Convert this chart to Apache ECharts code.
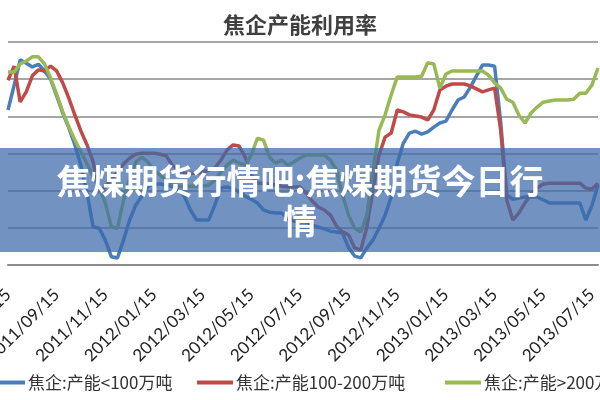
<!DOCTYPE html>
<html>
<head>
<meta charset="utf-8">
<script src="https://cdn.jsdelivr.net/npm/echarts@6/dist/echarts.min.js"></script>
<style>
  html, body { margin: 0; padding: 0; background: #fff; }
  #main { width: 600px; height: 400px; }
</style>
</head>
<body>
<div id="main"></div>
<script>
// series names
var names = ['焦企:产能<100万吨', '焦企:产能100-200万吨', '焦企:产能>200万吨'];

// labelled ticks on the date axis
var tickLabels = ['2011/07/15', '2011/09/15', '2011/11/15', '2012/01/15', '2012/03/15',
  '2012/05/15', '2012/07/15', '2012/09/15', '2012/11/15', '2013/01/15',
  '2013/03/15', '2013/05/15', '2013/07/15'];

// utilisation (%), one value per week
var small = [81.7, 88.3, 95.2, 94.3, 93.3, 94.0, 92.2, 90.0, 85.5, 80.9,
  76.9, 72.3, 66.7, 59.4, 50.2, 49.9, 46.7, 42.2, 41.9, 46.7,
  52.1, 56.1, 58.5, 61.2, 61.8, 61.8, 61.5, 61.2, 60.2, 58.5,
  54.8, 52.1, 52.1, 52.1, 56.1, 60.7, 61.0, 60.5, 59.7, 58.5,
  57.7, 56.7, 54.8, 54.2, 54.0, 54.0, 52.6, 51.8, 51.6, 51.6,
  50.8, 50.2, 49.7, 49.1, 48.9, 48.6, 44.6, 42.4, 41.9, 44.6,
  46.7, 49.9, 53.4, 58.3, 67.4, 72.8, 75.5, 76.0, 75.2, 75.8,
  77.1, 78.2, 78.7, 81.7, 84.4, 85.2, 87.8, 90.8, 93.8, 93.8,
  93.5, 78.5, 58.8, 57.7, 58.0, 58.3, 58.3, 58.3, 57.5, 56.7,
  56.7, 56.7, 56.7, 56.7, 56.7, 52.1, 56.0, 61.5];

var middle = [89.7, 93.5, 83.9, 86.6, 90.9, 92.5, 92.2, 93.5, 92.2, 89.0,
  84.9, 80.3, 76.0, 72.3, 67.7, 59.6, 61.0, 63.1, 65.0, 67.2,
  68.8, 69.8, 70.1, 70.1, 70.1, 69.8, 69.4, 66.9, 65.5, 64.7,
  64.7, 64.7, 65.0, 65.5, 66.1, 68.2, 70.9, 72.3, 72.0, 69.0,
  64.2, 62.0, 62.0, 61.8, 61.5, 61.2, 61.0, 61.0, 61.0, 59.4,
  57.2, 55.6, 54.8, 53.4, 50.5, 48.9, 48.1, 44.6, 44.0, 50.2,
  60.2, 69.6, 74.4, 75.5, 81.7, 81.2, 80.4, 80.1, 79.8, 79.0,
  81.7, 87.1, 88.1, 88.7, 88.7, 88.7, 88.2, 87.4, 86.6, 87.1,
  87.6, 76.3, 57.5, 52.1, 54.0, 56.7, 59.1, 60.7, 61.8, 62.0,
  62.0, 62.0, 62.0, 62.0, 62.0, 60.7, 60.4, 62.0];

var large = [91.9, 91.9, 94.1, 94.9, 96.0, 96.0, 94.1, 90.3, 86.0, 81.2,
  77.2, 73.6, 70.4, 67.2, 63.9, 60.7, 56.7, 50.2, 49.9, 57.5,
  63.4, 67.7, 69.0, 67.7, 65.5, 64.2, 62.8, 61.5, 61.2, 61.2,
  61.2, 61.2, 61.2, 61.5, 62.8, 65.0, 66.9, 68.2, 67.4, 66.9,
  69.6, 74.1, 73.6, 69.0, 67.4, 68.2, 66.9, 67.7, 68.8, 69.6,
  69.6, 69.6, 69.6, 68.2, 65.5, 58.8, 53.4, 49.9, 48.9, 53.4,
  65.5, 76.3, 80.4, 85.8, 90.6, 90.6, 90.6, 90.6, 90.8, 94.4,
  94.1, 87.6, 91.4, 92.2, 92.2, 92.2, 92.2, 92.2, 92.2, 91.1,
  89.0, 87.6, 84.6, 83.8, 80.3, 78.2, 80.9, 82.5, 83.8, 84.1,
  84.4, 84.4, 84.4, 84.6, 86.2, 86.2, 88.4, 93.0];

// weekly dates, 2011/07/15 .. 2013/07/22
var dates = [];
var days = ['01', '08', '15', '22'];
for (var y = 2011; y <= 2013; y++) {
  for (var m = 1; m <= 12; m++) {
    var mm = (m < 10 ? '0' : '') + m;
    days.forEach(function (d) {
      var s = y + '/' + mm + '/' + d;
      if (s >= '2011/07/15' && s <= '2013/07/22') dates.push(s);
    });
  }
}

var colors = ['#4a7ebb', '#be4b48', '#98b954'];
var cjk = '"Noto Sans CJK SC", sans-serif';

var chart = echarts.init(document.getElementById('main'));

function legendAt(name, left) {
  return {
    data: [name],
    left: left,
    top: 369,
    icon: 'rect',
    itemWidth: 36,
    itemHeight: 4,
    itemGap: 0,
    textStyle: { fontSize: 17, color: '#333', fontFamily: cjk, padding: [0, 0, 0, -2] }
  };
}

var option = {
  animation: false,
  backgroundColor: '#ffffff',
  color: colors,
  title: {
    text: '焦企产能利用率',
    left: 'center',
    top: 9,
    textStyle: { fontSize: 22, fontWeight: 'bold', color: '#404040', fontFamily: cjk }
  },
  legend: [
    legendAt(names[0], -16),
    legendAt(names[1], 192),
    legendAt(names[2], 440)
  ],
  grid: { left: 8, right: 2, top: 42, bottom: 135, containLabel: false, outerBoundsMode: 'none' },
  xAxis: {
    type: 'category',
    boundaryGap: false,
    data: dates,
    axisLine: { lineStyle: { color: '#8c8c8c', width: 2 } },
    axisTick: { show: false },
    axisLabel: {
      rotate: 45,
      margin: 27,
      fontSize: 17,
      color: '#222',
      fontFamily: 'Lato',
      interval: function (idx, val) { return tickLabels.indexOf(val) >= 0; }
    }
  },
  yAxis: {
    type: 'value',
    min: 40,
    max: 100,
    interval: 10,
    axisLabel: { show: false },
    axisLine: { show: false },
    axisTick: { show: false },
    splitLine: { lineStyle: { color: '#a6a6a6', width: 2 } }
  },
  series: [
    { name: names[0], type: 'line', data: small, symbol: 'none', lineStyle: { width: 3.5 } },
    { name: names[1], type: 'line', data: middle, symbol: 'none', lineStyle: { width: 3.5 } },
    { name: names[2], type: 'line', data: large, symbol: 'none', lineStyle: { width: 3.5 } }
  ],
  graphic: [
    {
      type: 'rect',
      z: 100,
      shape: { x: 0, y: 148, width: 600, height: 104 },
      style: { fill: 'rgba(60,105,170,0.72)' }
    },
    {
      type: 'text',
      z: 101,
      x: 300,
      y: 201,
      style: {
        text: '焦煤期货行情吧:焦煤期货今日行\n情',
        align: 'center',
        verticalAlign: 'middle',
        font: 'bold 34px "Noto Sans CJK SC"',
        lineHeight: 40,
        fill: '#ffffff'
      }
    }
  ]
};

chart.setOption(option);
</script>
</body>
</html>
